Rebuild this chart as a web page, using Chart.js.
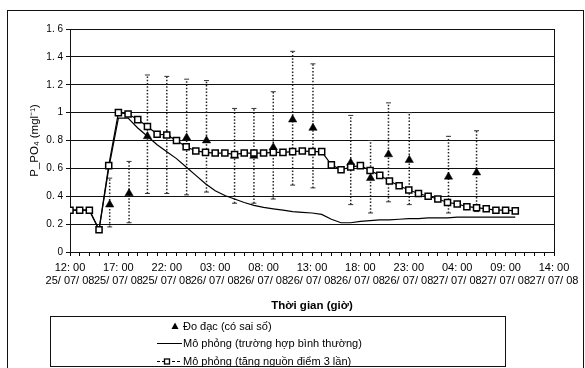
<!DOCTYPE html>
<html><head><meta charset="utf-8">
<script src="https://cdn.jsdelivr.net/npm/chart.js@4.4.1/dist/chart.umd.min.js"></script>
<style>
html,body{margin:0;padding:0;background:#fff;}
#wrap{position:relative;width:585px;height:368px;overflow:hidden;font-family:"Liberation Sans",Arial,sans-serif;background:#fff;}
#frame{position:absolute;left:7px;top:10px;width:577px;height:400px;border:1px solid #111;box-sizing:border-box;}
canvas{position:absolute;left:0;top:0;}
#legend{position:absolute;left:50px;top:316px;width:456px;height:51px;border:1px solid #111;box-sizing:border-box;font-size:11px;color:#000;}
.row{position:absolute;left:0;width:450px;height:14px;line-height:14px;white-space:nowrap;}
.row svg{position:absolute;left:106px;top:0;}
.row span{position:absolute;left:132px;top:0;}
</style></head>
<body>
<div id="wrap">
  <div id="frame"></div>
  <canvas id="c" width="585" height="368"></canvas>
  <div id="legend">
    <div class="row" style="top:2px"><svg width="26" height="14"><polygon points="18,3.5 21.5,10 14.5,10" fill="#000"/></svg><span>Đo đạc (có sai số)</span></div>
    <div class="row" style="top:19px"><svg width="26" height="14"><line x1="0" y1="7.5" x2="25" y2="7.5" stroke="#000" stroke-width="1"/></svg><span>Mô phỏng (trường hợp bình thường)</span></div>
    <div class="row" style="top:37px"><svg width="26" height="14"><line x1="0" y1="7.5" x2="25" y2="7.5" stroke="#000" stroke-width="1" stroke-dasharray="3,2"/><rect x="7.5" y="5" width="5" height="5" fill="#fff" stroke="#000" stroke-width="1.3"/></svg><span>Mô phỏng (tăng nguồn điểm 3 lần)</span></div>
  </div>
</div>
<script>
// ---- data (hours after 12:00 25/07/08) ----
const simHours = [0,1,2,3,4,5,6,7,8,9,10,11,12,13,14,15,16,17,18,19,20,21,22,23,24,25,26,27,28,29,30,31,32,33,34,35,36,37,38,39,40,41,42,43,44,45,46];
const simNormal = [0.30,0.30,0.30,0.16,0.60,0.96,0.96,0.89,0.83,0.77,0.72,0.67,0.61,0.55,0.49,0.44,0.405,0.38,0.355,0.335,0.32,0.31,0.30,0.29,0.285,0.28,0.27,0.235,0.21,0.21,0.22,0.225,0.23,0.23,0.235,0.24,0.24,0.245,0.245,0.245,0.25,0.25,0.25,0.25,0.25,0.25,0.25];
const simTriple = [0.30,0.30,0.30,0.16,0.62,1.00,0.99,0.95,0.90,0.845,0.84,0.80,0.755,0.725,0.715,0.71,0.71,0.70,0.71,0.71,0.71,0.715,0.715,0.72,0.725,0.72,0.72,0.625,0.59,0.61,0.62,0.585,0.55,0.51,0.475,0.445,0.42,0.40,0.38,0.355,0.345,0.325,0.318,0.31,0.30,0.30,0.295];
const obsHours  = [4.1,6.1,8,10,12.05,14.1,17,19,21,23,25.1,29,31.05,32.9,35.05,39.1,42];
const obsValues = [0.34,0.42,0.83,0.84,0.82,0.80,0.69,0.69,0.75,0.95,0.89,0.64,0.53,0.70,0.66,0.54,0.57];
const obsLow    = [0.18,0.21,0.42,0.42,0.41,0.43,0.35,0.35,0.38,0.48,0.46,0.34,0.28,0.36,0.34,0.28,0.29];
const obsHigh   = [0.53,0.65,1.27,1.26,1.24,1.23,1.03,1.03,1.15,1.44,1.35,0.98,0.80,1.07,1.00,0.83,0.87];
const xTickTimes = ['12: 00','17: 00','22: 00','03: 00','08: 00','13: 00','18: 00','23: 00','04: 00','09: 00','14: 00'];
const xTickDates = ['25/ 07/ 08','25/ 07/ 08','25/ 07/ 08','26/ 07/ 08','26/ 07/ 08','26/ 07/ 08','26/ 07/ 08','26/ 07/ 08','27/ 07/ 08','27/ 07/ 08','27/ 07/ 08'];

const FONT = '"Liberation Sans", Arial, sans-serif';

const errData = [];
obsHours.forEach((h,i)=>{ errData.push({x:h,y:obsLow[i]},{x:h,y:obsHigh[i]},{x:h,y:null}); });

const plotBorder = {
  id:'plotBorder',
  beforeDatasetsDraw(chart){
    const {ctx, chartArea:a} = chart;
    ctx.save(); ctx.strokeStyle='#111'; ctx.lineWidth=1;
    ctx.strokeRect(Math.round(a.left)+0.5, Math.round(a.top)+0.5, Math.round(a.width), Math.round(a.height));
    ctx.restore();
  }
};

new Chart(document.getElementById('c'), {
  type:'line',
  data:{
    datasets:[
      {label:'Mô phỏng (tăng nguồn điểm 3 lần)', order:0,
       data: simHours.map((h,i)=>({x:h,y:simTriple[i]})),
       borderColor:'#000', borderWidth:1.2, pointStyle:'rect', pointRadius:4.3,
       pointBackgroundColor:'#fff', pointBorderColor:'#000', pointBorderWidth:1.5, tension:0},
      {label:'Đo đạc (có sai số)', order:1,
       data: obsHours.map((h,i)=>({x:h,y:obsValues[i]})),
       showLine:false, pointStyle:'triangle', pointRadius:4.8,
       pointBackgroundColor:'#000', pointBorderColor:'#000', pointBorderWidth:0.5},
      {label:'Mô phỏng (trường hợp bình thường)', order:2,
       data: simHours.map((h,i)=>({x:h,y:simNormal[i]})),
       borderColor:'#000', borderWidth:1.2, pointRadius:0, tension:0},
      {label:'err', order:3, data: errData, spanGaps:false,
       borderColor:'#222', borderWidth:1.5, borderDash:[1.5,1.8],
       pointStyle:'line', pointRadius:2.5, pointBorderWidth:1, pointBorderColor:'#333', pointBackgroundColor:'#333'}
    ]
  },
  options:{
    responsive:false, animation:false, devicePixelRatio:1,
    layout:{padding:{top:29,right:31,bottom:52,left:0}},
    plugins:{legend:{display:false}, tooltip:{enabled:false}},
    scales:{
      x:{type:'linear', min:0, max:50,
         ticks:{stepSize:1, autoSkip:false, maxRotation:0, minRotation:0, color:'#000', padding:5,
                font:{family:FONT, size:11},
                callback:(v)=> (v%5===0 ? [xTickTimes[v/5], xTickDates[v/5]] : '')},
         grid:{drawOnChartArea:false, color:'#000', tickLength:4},
         border:{color:'#000'},
         title:{display:true, text:'Thời gian (giờ)', color:'#000', font:{family:FONT, size:11.5, weight:'bold'}, padding:{top:0,bottom:3}},
         afterFit:(s)=>{ s.height = 64; }
      },
      y:{min:0, max:1.6,
         ticks:{stepSize:0.2, color:'#000', padding:3, font:{family:FONT, size:10},
                callback:(v)=>{ const r=Math.round(v*10)/10; return (r%1===0) ? String(r) : r.toFixed(1).replace('.', '. '); }},
         grid:{color:'#111', lineWidth:1, tickLength:4},
         border:{color:'#000'},
         title:{display:true, text:'P_PO₄ (mgl⁻¹)', color:'#000', font:{family:FONT, size:11.5}, padding:{top:28,bottom:0}},
         afterFit:(s)=>{ s.width = 70; }
      }
    }
  },
  plugins:[plotBorder]
});
</script>
</body></html>
